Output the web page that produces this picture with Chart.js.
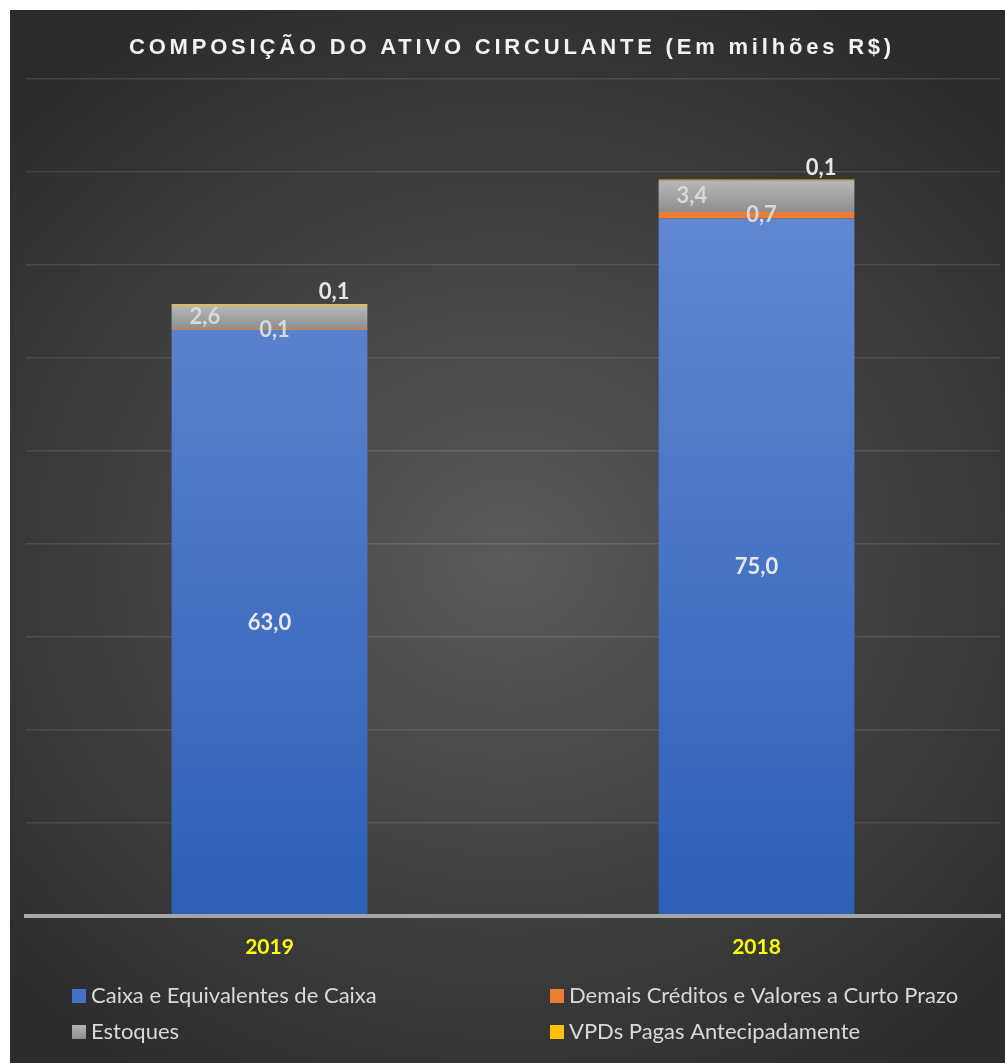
<!DOCTYPE html>
<html>
<head>
<meta charset="utf-8">
<script src="https://cdn.jsdelivr.net/npm/chart.js@4/dist/chart.umd.min.js"></script>
<style>
  body { margin: 0; background: #ffffff; }
  #box {
    position: absolute; left: 10px; top: 10px; width: 995px; height: 1053px;
    background: radial-gradient(ellipse 70% 60% at 50% 52%, #5a5a5a 0%, #444444 45%, #2b2b2b 100%);
  }
</style>
</head>
<body>
<div id="box"><canvas id="myChart"></canvas></div>
<script>
const titleText = 'COMPOSIÇÃO DO ATIVO CIRCULANTE (Em milhões R$)';
const years = ['2019', '2018'];
const seriesNames = ['Caixa e Equivalentes de Caixa', 'Demais Créditos e Valores a Curto Prazo', 'Estoques', 'VPDs Pagas Antecipadamente'];
const caixa = [63.0, 75.0];
const demais = [0.1, 0.7];
const estoques = [2.6, 3.4];
const vpds = [0.1, 0.1];
const seriesColors = ['#4472c4', '#ed7d31', '#a5a5a5', '#ffc000'];

const allSeries = [caixa, demais, estoques, vpds];

function fmt(v) {
    return v.toFixed(1).replace('.', ',');
}

// gradient for one stacked segment, built from the scale
function segGradient(context, top, bottom) {
    const chart = context.chart;
    const y = chart.scales.y;
    if (!y || context.type !== 'data') return top;
    const i = context.dataIndex;
    let start = 0;
    for (let d = 0; d < context.datasetIndex; d++) start += allSeries[d][i];
    const end = start + allSeries[context.datasetIndex][i];
    const y0 = y.getPixelForValue(start);
    const y1 = y.getPixelForValue(end);
    if (!isFinite(y0) || !isFinite(y1) || y0 === y1) return top;
    const g = chart.ctx.createLinearGradient(0, y1, 0, y0);
    g.addColorStop(0, top);
    g.addColorStop(1, bottom);
    return g;
}

function blueGradient(context) {
    const chart = context.chart;
    const area = chart.chartArea;
    if (!area) return seriesColors[0];
    const g = chart.ctx.createLinearGradient(0, area.bottom, 0, area.top);
    g.addColorStop(0, '#2d5fb8');
    g.addColorStop(1, '#6c8fd6');
    return g;
}

const titlePlugin = {
    id: 'spacedTitle',
    afterDraw(chart) {
        const ctx = chart.ctx;
        ctx.save();
        ctx.font = 'bold 22px "Liberation Sans", Arial, sans-serif';
        ctx.letterSpacing = '3.8px';
        ctx.fillStyle = '#f2f2f2';
        ctx.textAlign = 'center';
        ctx.textBaseline = 'middle';
        ctx.fillText(titleText, 502, 38);
        ctx.restore();
    }
};

const labelPlugin = {
    id: 'segLabels',
    afterDatasetsDraw(chart) {
        const ctx = chart.ctx;
        ctx.save();
        ctx.font = 'bold 22px Lato, "Open Sans", sans-serif';
        ctx.textAlign = 'center';
        ctx.textBaseline = 'middle';
        chart.data.datasets.forEach((ds, d) => {
            const meta = chart.getDatasetMeta(d);
            meta.data.forEach((bar, i) => {
                const w = bar.width;
                const mid = (bar.y + bar.base) / 2;
                let x = bar.x, y = mid, color = '#e8e8e8';
                if (d === 1) { x = bar.x + 5; color = '#d9d9d9'; }
                if (d === 2) { x = bar.x - w * 0.33; color = '#d9d9d9'; }
                if (d === 3) { x = bar.x + w * 0.33; y = bar.y - 12; color = '#e6e6e6'; }
                ctx.fillStyle = color;
                ctx.fillText(fmt(ds.data[i]), x, y);
            });
        });
        ctx.restore();
    }
};

const legendPlugin = {
    id: 'gridLegend',
    afterDraw(chart) {
        const ctx = chart.ctx;
        const cols = [62, 540];
        const rows = [986, 1022];
        ctx.save();
        ctx.font = '22px Lato, "Open Sans", sans-serif';
        ctx.textBaseline = 'middle';
        seriesNames.forEach((name, k) => {
            const bx = cols[k % 2];
            const by = rows[Math.floor(k / 2)];
            if (k === 2) {
                const g = ctx.createLinearGradient(0, by - 7, 0, by + 7);
                g.addColorStop(0, '#b5b5b5');
                g.addColorStop(1, '#8c8c8c');
                ctx.fillStyle = g;
            } else {
                ctx.fillStyle = seriesColors[k];
            }
            ctx.fillRect(bx, by - 7, 14, 14);
            ctx.fillStyle = '#d9d9d9';
            ctx.fillText(name, bx + 19, by);
        });
        ctx.restore();
    }
};

const ctx = document.getElementById('myChart');

const myChart = new Chart(ctx, {
    type: 'bar',
    data: {
        labels: years,
        datasets: [
            { label: seriesNames[0], data: caixa, backgroundColor: blueGradient },
            { label: seriesNames[1], data: demais, backgroundColor: seriesColors[1] },
            { label: seriesNames[2], data: estoques, backgroundColor: c => segGradient(c, '#b8b8b8', '#8e8e8e') },
            { label: seriesNames[3], data: vpds, backgroundColor: seriesColors[3] }
        ]
    },
    options: {
        responsive: true,
        maintainAspectRatio: false,
        animation: false,
        layout: {
            padding: { left: 16, right: 5, top: 69, bottom: 84 }
        },
        datasets: {
            bar: { categoryPercentage: 1, barPercentage: 0.402, borderWidth: 0 }
        },
        scales: {
            x: {
                stacked: true,
                grid: { display: false, drawTicks: false },
                border: { display: true, color: '#a6a6a6', width: 4, z: 1 },
                ticks: {
                    color: '#ffff00',
                    padding: 19,
                    font: { family: 'Lato', size: 21, weight: 'bold' }
                }
            },
            y: {
                stacked: true,
                min: 0,
                max: 90,
                ticks: { display: false, stepSize: 10 },
                border: { display: false },
                grid: { color: 'rgba(255,255,255,0.11)', lineWidth: 1.5, drawTicks: false }
            }
        },
        plugins: {
            legend: { display: false },
            tooltip: { enabled: false },
            title: { display: false }
        }
    },
    plugins: [titlePlugin, labelPlugin, legendPlugin]
});
</script>
</body>
</html>
